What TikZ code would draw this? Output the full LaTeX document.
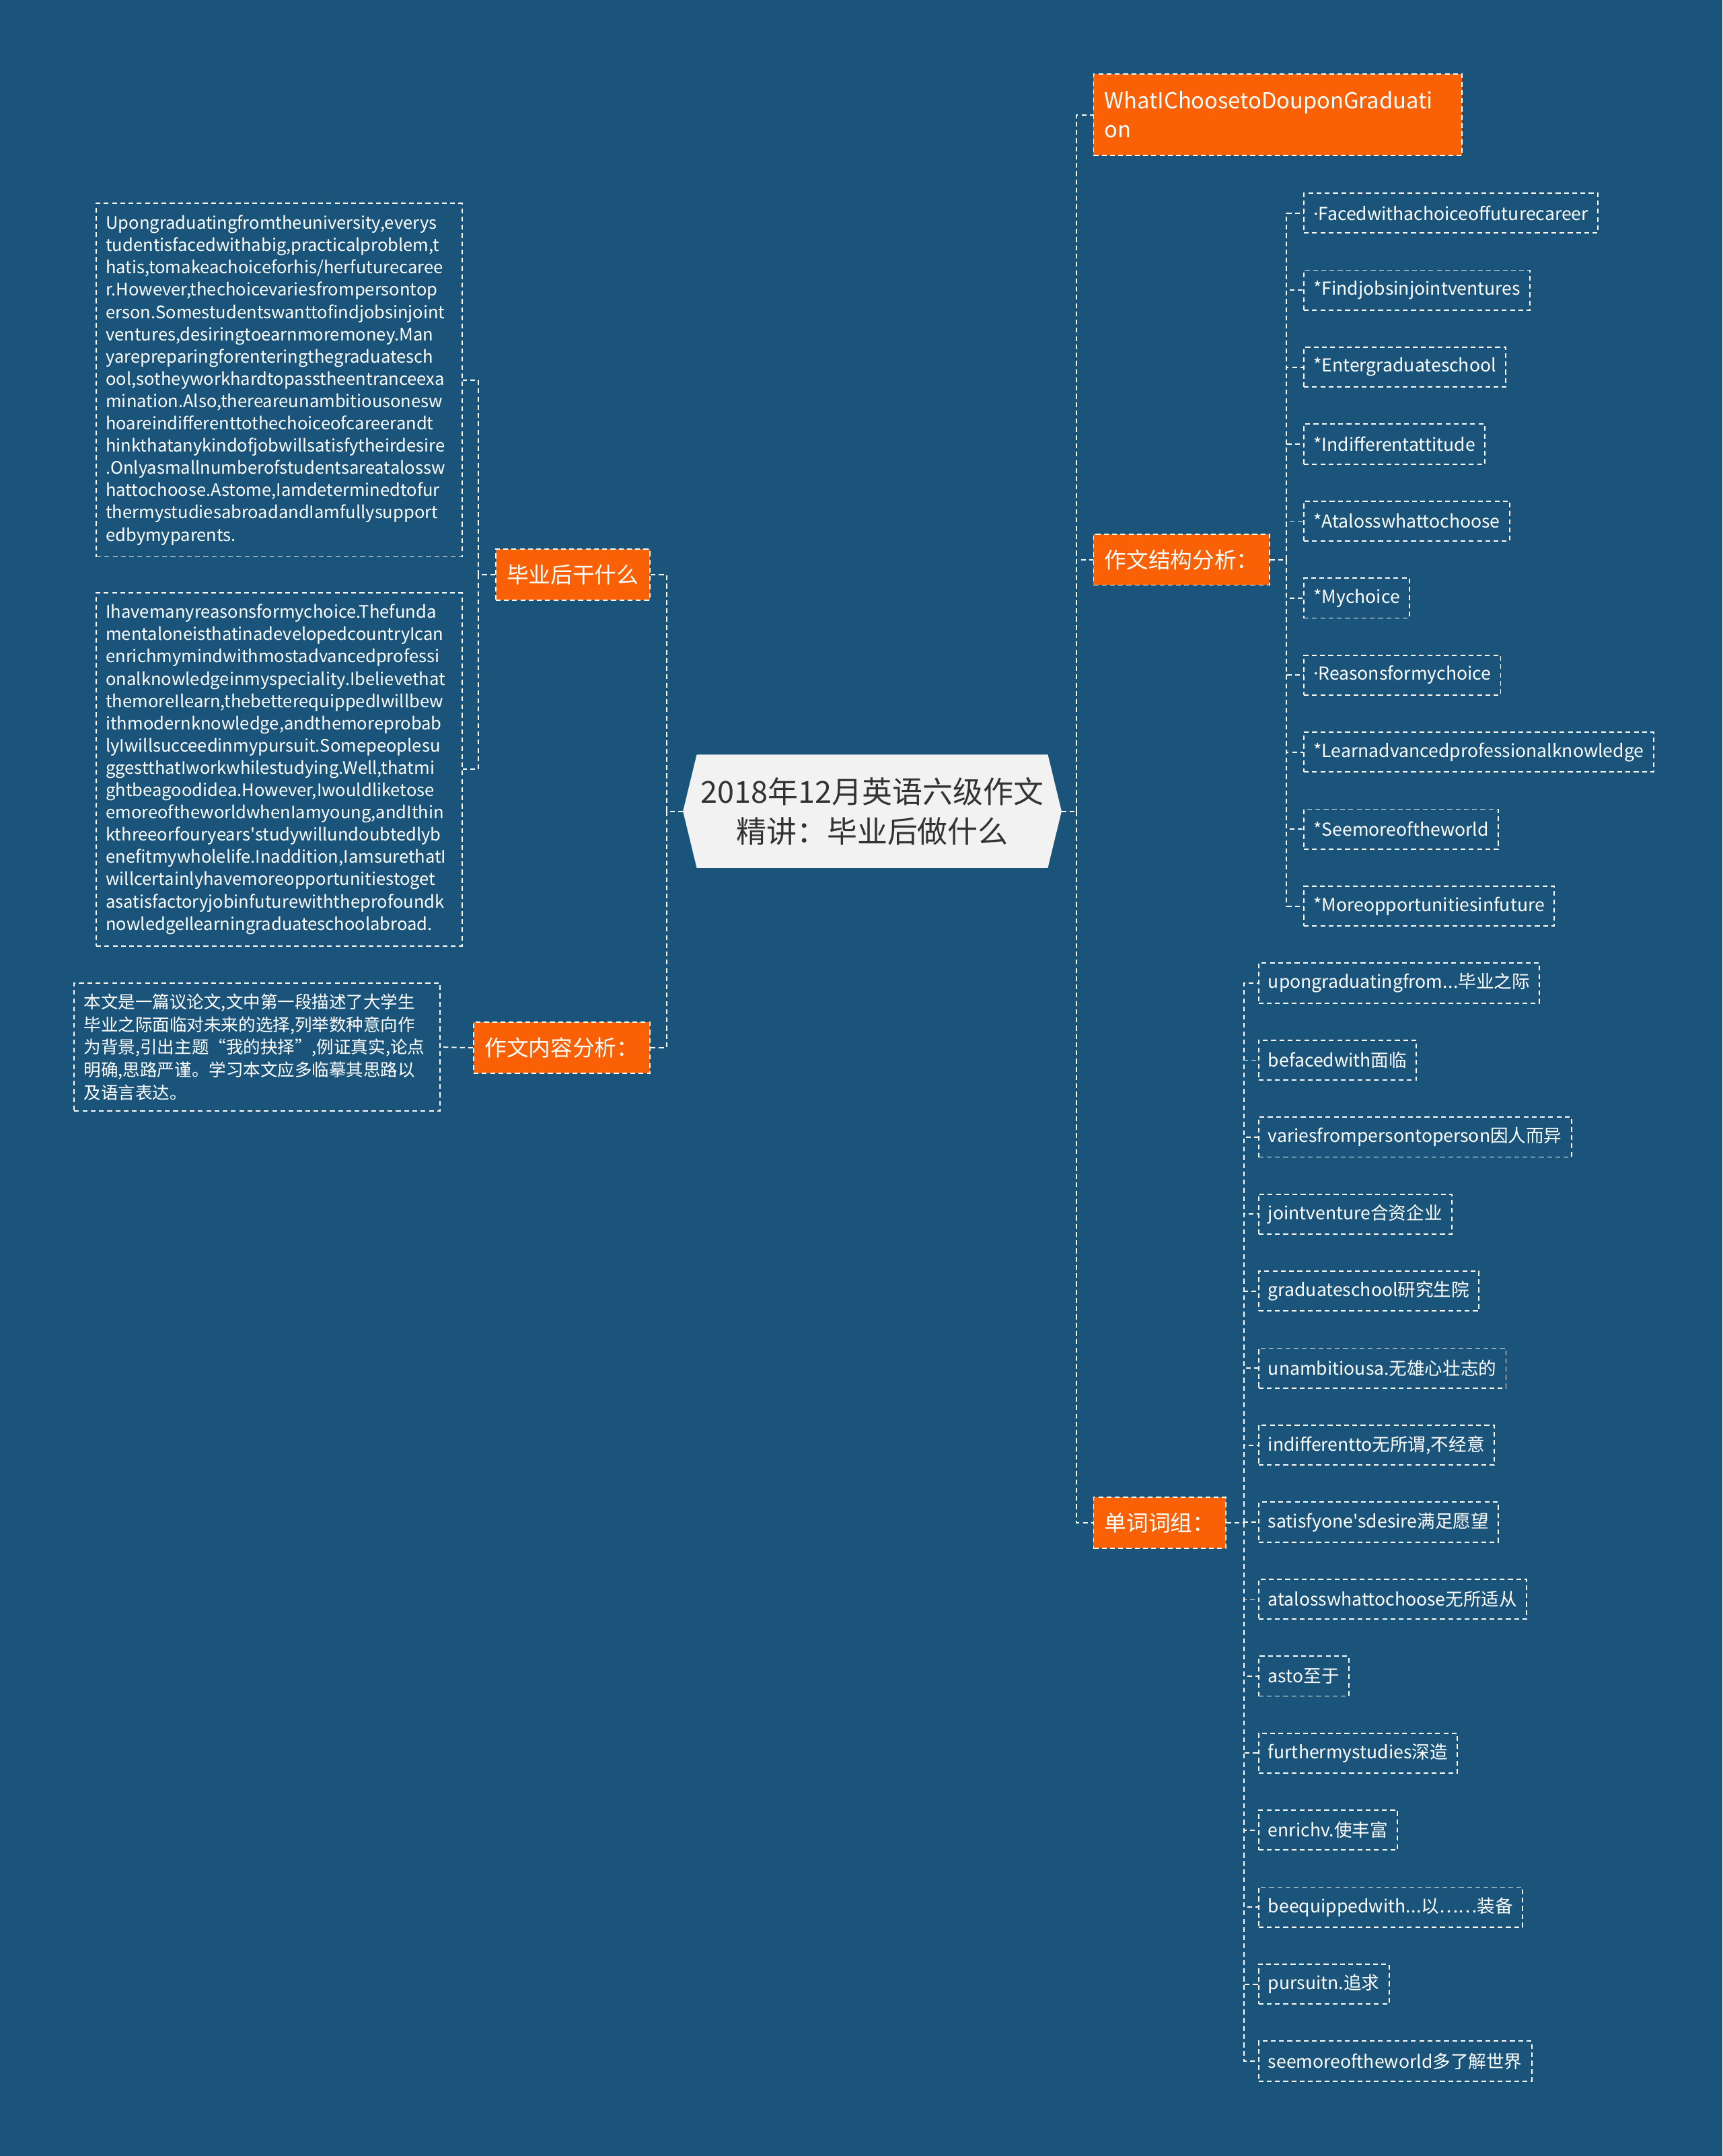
\documentclass[tikz,border=0pt]{standalone}
\usepackage{fontspec}
\setmainfont{Noto Sans CJK SC}
\newfontfamily\pf{Noto Sans CJK SC}[RawFeature=+pwid]
\newfontfamily\latf{Noto Sans}
\usetikzlibrary{calc}
\pgfdeclarelayer{background}
\pgfsetlayers{background,main}
\definecolor{bg}{RGB}{26,84,122}
\definecolor{org}{RGB}{250,96,5}
\definecolor{ctr}{RGB}{242,242,242}
\definecolor{ctrtext}{RGB}{51,51,51}
\newcommand{\tdd}{.\kern0.3pt.\kern0.3pt.}
\newcommand{\mdt}{{\latf ·}}
\newcommand{\apo}{{\pf '}}
\tikzset{
  dsh/.style={draw=white, line width=0.9pt, dash pattern=on 3.5pt off 2.5pt},
  conn/.style={dsh},
  orangebox/.style={dsh, fill=org, text=white, font=\fontsize{16}{21}\selectfont, inner xsep=8pt, inner ysep=0pt, minimum height=37pt},
  item/.style={dsh, text=white, font=\fontsize{13}{16}\selectfont, inner xsep=7pt, inner ysep=0pt, minimum height=29pt, anchor=west},
  para/.style={dsh, text=white, align=left, inner xsep=7pt, inner ysep=0pt, text width=252pt, font=\fontsize{12.5}{16.2}\selectfont},
}
\begin{document}
\begin{tikzpicture}[x=1pt,y=-1pt]
\begin{pgfonlayer}{background}
\fill[bg] (0,0) rectangle (1253,1568);
\end{pgfonlayer}
\useasboundingbox (0,0) rectangle (1253,1568);

% central node
\node[text=ctrtext, align=center, font=\fontsize{22}{29}\selectfont, minimum width=275pt, minimum height=82pt, inner sep=0pt] (c) at (634.5,590) {2018年12月英语六级作文\\精讲：毕业后做什么};
\begin{pgfonlayer}{background}
\fill[ctr] (c.west) -- ([xshift=10pt]c.north west) -- ([xshift=-10pt]c.north east) -- (c.east) -- ([xshift=-10pt]c.south east) -- ([xshift=10pt]c.south west) -- cycle;
\end{pgfonlayer}

% left branches
\node[orangebox, anchor=east] (l1) at (473,418) {毕业后干什么};
\node[orangebox, anchor=east] (l2) at (473,762) {作文内容分析：};

\node[para, minimum height=257pt] (p1) at (203,276.5) {Upongraduatingfromtheuniversity,everys\\
tudentisfacedwithabig,practicalproblem,t\\
hatis,tomakeachoiceforhis/herfuturecaree\\
r.However,thechoicevariesfrompersontop\\
erson.Somestudentswanttofindjobsinjoint\\
ventures,desiringtoearnmoremoney.Man\\
yarepreparingforenteringthegraduatesch\\
ool,sotheyworkhardtopasstheentranceexa\\
mination.Also,thereareunambitiousonesw\\
hoareindifferenttothechoiceofcareerandt\\
hinkthatanykindofjobwillsatisfytheirdesire\\
.Onlyasmallnumberofstudentsareatalossw\\
hattochoose.Astome,Iamdeterminedtofur\\
thermystudiesabroadandIamfullysupport\\
edbymyparents.};

\node[para, minimum height=257pt] (p2) at (203,559.5) {Ihavemanyreasonsformychoice.Thefunda\\
mentaloneisthatinadevelopedcountryIcan\\
enrichmymindwithmostadvancedprofessi\\
onalknowledgeinmyspeciality.Ibelievethat\\
themoreIlearn,thebetterequippedIwillbew\\
ithmodernknowledge,andthemoreprobab\\
lyIwillsucceedinmypursuit.Somepeoplesu\\
ggestthatIworkwhilestudying.Well,thatmi\\
ghtbeagoodidea.However,Iwouldliketose\\
emoreoftheworldwhenIamyoung,andIthin\\
kthreeorfouryears\apo studywillundoubtedlyb\\
enefitmywholelife.Inaddition,IamsurethatI\\
willcertainlyhavemoreopportunitiestoget\\
asatisfactoryjobinfuturewiththeprofoundk\\
nowledgeIlearningraduateschoolabroad.};

\node[para, minimum height=93pt, font=\fontsize{12.5}{16.5}\selectfont] (p3) at (187,761.5) {本文是一篇议论文,文中第一段描述了大学生\\
毕业之际面临对未来的选择,列举数种意向作\\
为背景,引出主题“我的抉择”,例证真实,论点\\
明确,思路严谨。学习本文应多临摹其思路以\\
及语言表达。};

\coordinate (lt) at ($(c.west)+(-12,0)$);
\draw[conn] (c.west) -- (lt);
\draw[conn] (lt) |- (l1.east);
\draw[conn] (lt) |- (l2.east);
\coordinate (lj) at ($(l1.west)+(-12,0)$);
\draw[conn] (l1.west) -- (lj);
\draw[conn] (lj) |- (p1.east);
\draw[conn] (lj) |- (p2.east);
\draw[conn] (l2.west) -- (p3.east);

% right branches
\node[orangebox, anchor=west, text width=252pt, align=left, minimum height=59pt] (r1) at (795,83.5) {WhatIChoosetoDouponGraduati\\on};
\node[orangebox, anchor=west] (r2) at (795,407) {作文结构分析：};
\node[orangebox, anchor=west] (r3) at (795,1107.5) {单词词组：};

\coordinate (rt) at ($(c.east)+(11,0)$);
\draw[conn] (c.east) -- (rt);
\draw[conn] (rt) |- (r1.west);
\draw[conn] (rt) |- (r2.west);
\draw[conn] (rt) |- (r3.west);

\coordinate (sj) at ($(r2.east)+(12,0)$);
\draw[conn] (r2.east) -- (sj);
\foreach \t [count=\i] in {{\mdt Facedwithachoiceoffuturecareer},{*Findjobsinjointventures},{*Entergraduateschool},{*Indifferentattitude},{*Atalosswhattochoose},{*Mychoice},{\mdt Reasonsformychoice},{*Learnadvancedprofessionalknowledge},{*Seemoreoftheworld},{*Moreopportunitiesinfuture}}{
  \node[item] (s\i) at (948,{155+56*(\i-1)}) {\t};
  \draw[conn] (sj) |- (s\i.west);
}

\coordinate (vj) at ($(r3.east)+(13,0)$);
\draw[conn] (r3.east) -- (vj);
\foreach \t [count=\i] in {{upongraduatingfrom\tdd 毕业之际},{befacedwith面临},{variesfrompersontoperson因人而异},{jointventure合资企业},{graduateschool研究生院},{unambitiousa.无雄心壮志的},{indifferentto无所谓,不经意},{satisfyone\apo sdesire满足愿望},{atalosswhattochoose无所适从},{asto至于},{furthermystudies深造},{enrichv.使丰富},{beequippedwith\tdd 以……装备},{pursuitn.追求},{seemoreoftheworld多了解世界}}{
  \node[item] (v\i) at (915,{715+56*(\i-1)}) {\t};
  \draw[conn] (vj) |- (v\i.west);
}
\end{tikzpicture}
\end{document}
